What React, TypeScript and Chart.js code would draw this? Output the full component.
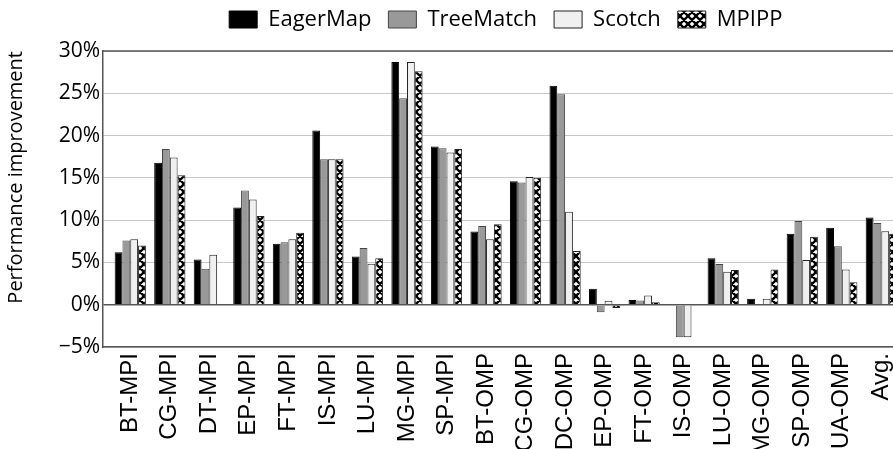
import React, { useEffect, useRef } from 'react';
import { Chart, registerables, CategoryScale } from 'chart.js';

class PaddedCategoryScale extends CategoryScale {
  static id = 'paddedCategory';
  static defaults = CategoryScale.defaults;
  configure() {
    super.configure();
    const pad = 0.095;
    (this as any)._startValue -= pad;
    (this as any)._valueRange += 2 * pad;
  }
}

Chart.register(...registerables, PaddedCategoryScale as any);

const categories = [
  'BT-MPI', 'CG-MPI', 'DT-MPI', 'EP-MPI', 'FT-MPI', 'IS-MPI', 'LU-MPI', 'MG-MPI', 'SP-MPI',
  'BT-OMP', 'CG-OMP', 'DC-OMP', 'EP-OMP', 'FT-OMP', 'IS-OMP', 'LU-OMP', 'MG-OMP', 'SP-OMP', 'UA-OMP', 'Avg.',
];
const seriesNames = ['EagerMap', 'TreeMatch', 'Scotch', 'MPIPP'];
const eagerMap = [6.2, 16.8, 5.35, 11.5, 7.2, 20.6, 5.7, 28.7, 18.7, 8.65, 14.6, 25.9, 1.9, 0.55, 0, 5.5, 0.7, 8.4, 9.1, 10.3];
const treeMatch = [7.6, 18.4, 4.25, 13.5, 7.4, 17.2, 6.7, 24.4, 18.5, 9.3, 14.45, 24.9, -0.9, 0.5, -3.85, 4.8, 0, 9.9, 6.9, 9.65];
const scotch = [7.75, 17.4, 5.9, 12.45, 7.75, 17.2, 4.85, 28.7, 18.0, 7.75, 15.1, 11.0, 0.47, 1.1, -3.85, 3.9, 0.7, 5.3, 4.15, 8.7];
const mpipp = [7.0, 15.3, 0, 10.5, 8.5, 17.2, 5.5, 27.6, 18.4, 9.5, 15.0, 6.35, -0.4, 0.3, 0, 4.1, 4.15, 8.05, 2.65, 8.4];
const yMin = -5;
const yMax = 30;
const yStep = 5;

function makePattern(): CanvasPattern | string {
  const c = document.createElement('canvas');
  c.width = 8;
  c.height = 8;
  const g = c.getContext('2d');
  if (!g) return '#000';
  g.fillStyle = '#fff';
  g.fillRect(0, 0, 8, 8);
  g.strokeStyle = '#000';
  g.lineWidth = 2.3;
  g.beginPath();
  for (const dx of [-8, 0, 8]) {
    g.moveTo(dx - 2, -2);
    g.lineTo(dx + 10, 10);
    g.moveTo(dx + 10, -2);
    g.lineTo(dx - 2, 10);
  }
  g.stroke();
  return g.createPattern(c, 'repeat') || '#000';
}

const framePlugin = {
  id: 'frame',
  afterDraw(chart: any) {
    const { ctx, chartArea } = chart;
    ctx.save();
    ctx.strokeStyle = '#555';
    ctx.lineWidth = 1.5;
    ctx.beginPath();
    ctx.moveTo(chartArea.left, chartArea.top);
    ctx.lineTo(chartArea.right, chartArea.top);
    ctx.lineTo(chartArea.right, chartArea.bottom);
    ctx.stroke();
    ctx.restore();
  },
};

export default function App() {
  const ref = useRef<HTMLCanvasElement>(null);

  useEffect(() => {
    if (!ref.current) return;
    const pattern = makePattern();
    const chart = new Chart(ref.current, {
      type: 'bar',
      data: {
        labels: categories,
        datasets: [
          { label: seriesNames[0], data: eagerMap, backgroundColor: '#000', borderColor: '#000', borderWidth: 1 },
          { label: seriesNames[1], data: treeMatch, backgroundColor: '#999', borderColor: '#444', borderWidth: 1 },
          { label: seriesNames[2], data: scotch, backgroundColor: '#f0f0f0', borderColor: '#222', borderWidth: 1 },
          { label: seriesNames[3], data: mpipp, backgroundColor: pattern as any, borderColor: '#222', borderWidth: 1 },
        ],
      },
      options: {
        responsive: false,
        animation: false,
        layout: { padding: { top: -8.5, left: 0, right: 1, bottom: 0 } },
        datasets: { bar: { categoryPercentage: 0.79, barPercentage: 1 } },
        plugins: {
          tooltip: { enabled: false },
          legend: {
            position: 'top',
            align: 'center',
            fullSize: false,
            labels: {
              boxWidth: 28,
              boxHeight: 17,
              padding: 17,
              color: '#000',
              font: { family: 'Open Sans', size: 22 },
            },
          },
          subtitle: {
            display: true,
            text: '',
            weight: 500,
            font: { size: 1, lineHeight: 1 },
            padding: { top: 0, bottom: 9.5 },
          },
        },
        scales: {
          x: {
            type: 'paddedCategory' as any,
            grid: { display: false, drawTicks: false },
            border: { display: true, color: '#555', width: 1.5 },
            ticks: {
              autoSkip: false,
              minRotation: 90,
              maxRotation: 90,
              padding: 6,
              color: '#000',
              font: { family: 'Liberation Sans', size: 24 },
            },
            afterFit: (s: any) => { s.height = 102; },
          },
          y: {
            min: yMin,
            max: yMax,
            grid: {
              drawTicks: false,
              color: (c: any) => (c.tick && c.tick.value === 0 ? '#555' : '#c8c8c8'),
              lineWidth: (c: any) => (c.tick && c.tick.value === 0 ? 1.5 : 1),
            },
            border: { display: true, color: '#555', width: 1.5 },
            ticks: {
              stepSize: yStep,
              padding: 3,
              color: '#000',
              font: { family: 'Open Sans', size: 21 },
              callback: (v: any) => (Number(v) < 0 ? '\u2212' + Math.abs(Number(v)) : String(v)) + '%',
            },
            title: {
              display: true,
              text: 'Performance improvement',
              align: 'end',
              color: '#000',
              font: { family: 'Open Sans', size: 20 },
              padding: { top: 4, bottom: 4 },
            },
            afterFit: (s: any) => { s.width = 103; },
          },
        },
      },
      plugins: [framePlugin],
    });
    return () => chart.destroy();
  }, []);

  return (
    <div style={{ position: 'fixed', left: 0, top: 0, width: 893, height: 449, overflow: 'hidden', background: '#fff' }}>
      <canvas ref={ref} width={920} height={449} style={{ display: 'block' }} />
    </div>
  );
}
